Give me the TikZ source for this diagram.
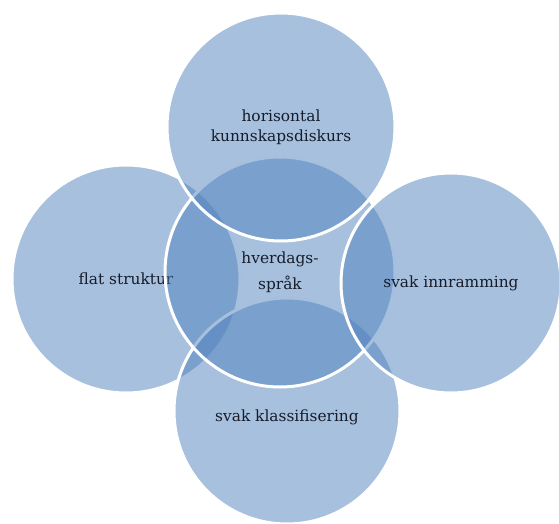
\documentclass[tikz,border=0pt]{standalone}
\usepackage{fontspec}
\setmainfont{DejaVu Serif}
\usepackage{tikz}
\definecolor{vennblue}{HTML}{4F81BD}
\definecolor{venntext}{HTML}{161C2A}
\tikzset{
  venn/.style={circle, fill=vennblue, fill opacity=0.5, draw=white,
               draw opacity=1, line width=3pt, text opacity=1, text=venntext,
               inner sep=0pt, align=center,
               font=\fontsize{15.4}{20}\selectfont},
}

\begin{document}
\begin{tikzpicture}[x=1pt,y=-1pt]
  \useasboundingbox (0,0) rectangle (559,524);
  \node[venn, minimum size=228pt] (flat)  at (126,279) {flat struktur};
  \node[venn, minimum size=226pt] (klass) at (287,411) {\\[4pt]svak klassifisering};
  \node[venn, minimum size=230pt] (hverdag) at (280,272) {hverdags-\\[6pt]språk};
  \node[venn, minimum size=228pt] (horis) at (281,127) {horisontal\\kunnskapsdiskurs};
  \node[venn, minimum size=220pt] (innr)  at (451,283) {svak innramming};
\end{tikzpicture}
\end{document}
